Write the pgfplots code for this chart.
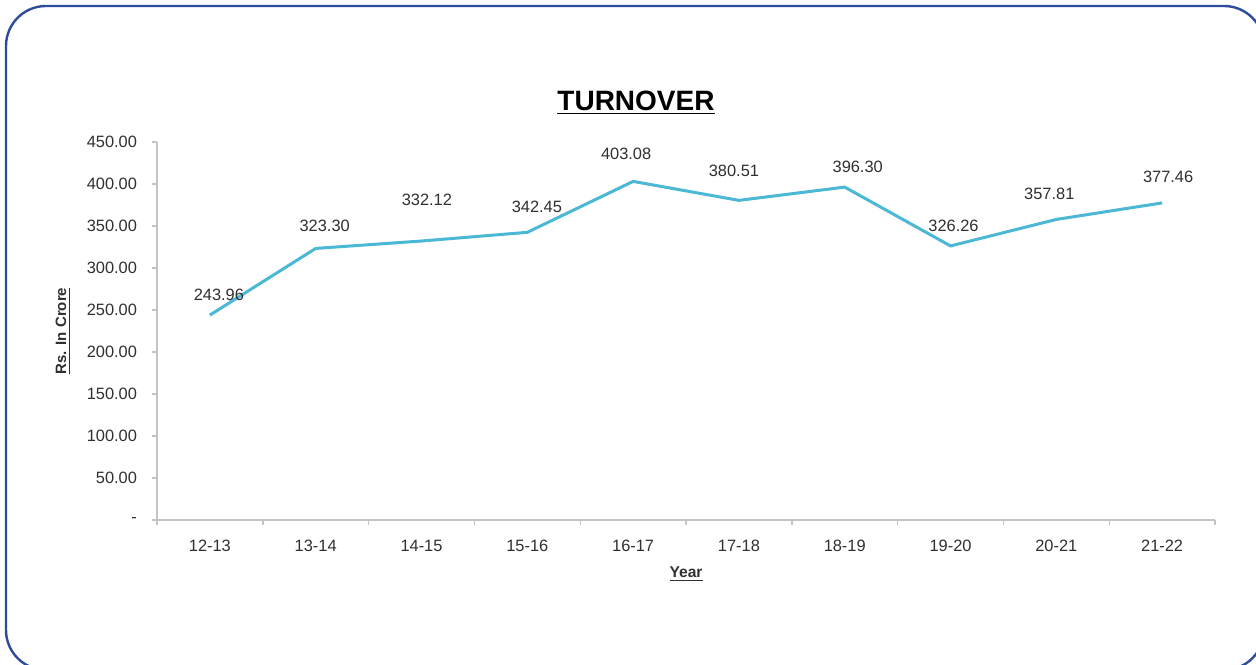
\documentclass[border=0pt]{standalone}
\usepackage{pgfplots}
\pgfplotsset{compat=1.18}
\usepackage{pgfplotstable}
\usepackage{fontspec}
\setmainfont{Liberation Sans}
\definecolor{lineblue}{HTML}{4BB8D6}
\definecolor{frameblue}{HTML}{2F4B9B}
\definecolor{axgray}{HTML}{C4C4C4}
\definecolor{txt}{HTML}{303030}

\pgfplotstableread{
x y dx dy
0 243.96 4.5 10
1 323.30 4.5 11.5
2 332.12 2.7 20.5
3 342.45 4.8 12.5
4 403.08 -3.5 14
5 380.51 -2.5 15
6 396.30 6.5 10
7 326.26 1.5 10
8 357.81 -3.5 13
9 377.46 3 13
}\turnover

\begin{document}
\begin{tikzpicture}
\useasboundingbox (0,0) rectangle (628pt,332pt);
\fill[white] (0,0) rectangle (628pt,332pt);
\draw[frameblue, line width=1.2pt, rounded corners=20pt] (3pt,-3pt) rectangle (632pt,329pt);
\node[font=\fontsize{14}{16}\selectfont\bfseries, text=black] at (318pt,280.5pt) {\underline{TURNOVER}};
\begin{axis}[
  at={(78.5pt,72pt)}, anchor=south west,
  scale only axis, width=529pt, height=189pt,
  xmin=-0.5, xmax=9.5, ymin=0, ymax=450,
  clip=false,
  axis lines*=left,
  axis line style={draw=axgray, line width=0.9pt, -},
  xtick={-0.5,0.5,1.5,2.5,3.5,4.5,5.5,6.5,7.5,8.5,9.5},
  xticklabels={},
  extra x ticks={0,1,2,3,4,5,6,7,8,9},
  extra x tick labels={12-13,13-14,14-15,15-16,16-17,17-18,18-19,19-20,20-21,21-22},
  extra x tick style={major tick length=0pt},
  ytick={0,50,100,150,200,250,300,350,400,450},
  yticklabels={-\hspace{11.5pt},50.00,100.00,150.00,200.00,250.00,300.00,350.00,400.00,450.00},
  tick align=outside,
  major tick length=2.5pt,
  tick style={draw=axgray, line width=0.7pt},
  ticklabel style={font=\fontsize{8.2}{10}\selectfont, text=txt},
  xticklabel style={yshift=-6.5pt},
  yticklabel style={xshift=-4pt},
  xlabel={\underline{\textbf{Year}}},
  ylabel={\underline{\textbf{Rs. In Crore}}},
  every axis x label/.style={at={([yshift=-27pt]axis description cs:0.5,0)}, anchor=center, font=\fontsize{7.8}{9}\selectfont, text=txt},
  every axis y label/.style={at={([xshift=-47pt]axis description cs:0,0.5)}, anchor=center, rotate=90, font=\fontsize{7.5}{9}\selectfont, text=txt},
  /pgf/number format/assume math mode=true,
]
\addplot[color=lineblue, line width=1.5pt, mark=none,
  point meta=y,
  visualization depends on={\thisrow{dx} \as \dx},
  visualization depends on={\thisrow{dy} \as \dy},
  nodes near coords={\pgfmathprintnumber[fixed,fixed zerofill,precision=2,assume math mode=true]{\pgfplotspointmeta}},
  nodes near coords style={font=\fontsize{8.2}{10}\selectfont, text=txt, anchor=center, xshift=\dx pt, yshift=\dy pt},
] table[x=x,y=y] {\turnover};
\end{axis}
\end{tikzpicture}
\end{document}
